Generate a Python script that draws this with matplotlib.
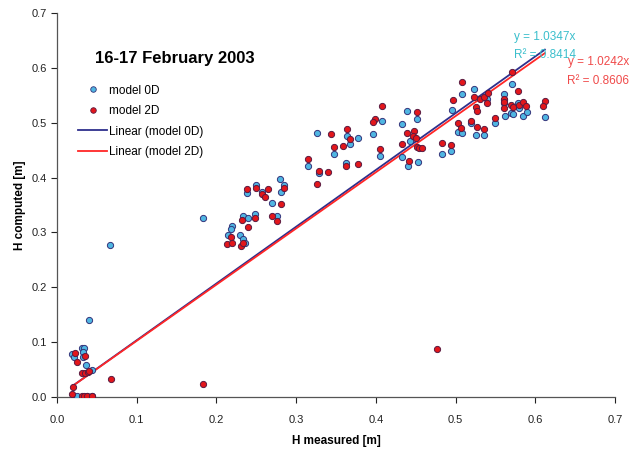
import matplotlib
matplotlib.use("Agg")
import matplotlib.pyplot as plt
import numpy as np
from matplotlib.lines import Line2D

plt.rcParams['font.family'] = ['Liberation Sans', 'DejaVu Sans']

# model 0D (measured, computed)
x_0d = [0.040, 0.031, 0.034, 0.033, 0.019, 0.021, 0.033, 0.036, 0.044, 0.025, 0.038, 0.044,
        0.066, 0.183,
        0.280, 0.285, 0.281, 0.250, 0.238, 0.257, 0.270, 0.233, 0.240, 0.248, 0.276, 0.220,
        0.218, 0.215, 0.230, 0.233, 0.236,
        0.408, 0.326, 0.364, 0.368, 0.378, 0.396, 0.348, 0.315, 0.363, 0.405, 0.329,
        0.523, 0.508, 0.540, 0.439, 0.452, 0.433, 0.496, 0.443, 0.503, 0.508, 0.519, 0.526,
        0.536, 0.433, 0.453, 0.440, 0.483, 0.494,
        0.571, 0.561, 0.561, 0.561, 0.578, 0.580, 0.570, 0.572, 0.562, 0.585, 0.590, 0.612,
        0.550]
y_0d = [0.140, 0.089, 0.089, 0.082, 0.078, 0.073, 0.073, 0.058, 0.049, 0.002, 0.002, 0.002,
        0.277, 0.326,
        0.397, 0.386, 0.374, 0.386, 0.372, 0.374, 0.354, 0.330, 0.326, 0.334, 0.330, 0.312,
        0.306, 0.295, 0.295, 0.288, 0.281,
        0.503, 0.481, 0.476, 0.461, 0.472, 0.479, 0.443, 0.421, 0.427, 0.439, 0.408,
        0.561, 0.552, 0.543, 0.521, 0.507, 0.498, 0.523, 0.467, 0.483, 0.481, 0.499, 0.478,
        0.478, 0.437, 0.428, 0.421, 0.443, 0.448,
        0.571, 0.552, 0.541, 0.536, 0.536, 0.527, 0.518, 0.516, 0.512, 0.512, 0.520, 0.510,
        0.499]

# model 2D (measured, computed)
x_2d = [0.023, 0.035, 0.025, 0.031, 0.035, 0.039, 0.040, 0.020, 0.019, 0.031, 0.034, 0.038,
        0.044, 0.068, 0.183, 0.477,
        0.238, 0.250, 0.265, 0.257, 0.261, 0.285, 0.281, 0.232, 0.248, 0.270, 0.276, 0.240,
        0.218, 0.213, 0.220, 0.231, 0.233,
        0.408, 0.399, 0.396, 0.364, 0.344, 0.368, 0.348, 0.359, 0.315, 0.363, 0.378, 0.405,
        0.329, 0.340, 0.326,
        0.508, 0.497, 0.523, 0.531, 0.536, 0.540, 0.526, 0.527, 0.452, 0.448, 0.439, 0.447,
        0.450, 0.433, 0.452, 0.454, 0.458, 0.503, 0.507, 0.519, 0.527, 0.536, 0.483, 0.494,
        0.442,
        0.571, 0.541, 0.578, 0.561, 0.561, 0.561, 0.570, 0.572, 0.580, 0.585, 0.588, 0.612,
        0.610, 0.550]
y_2d = [0.080, 0.075, 0.064, 0.044, 0.044, 0.046, 0.047, 0.018, 0.005, 0.002, 0.002, 0.002,
        0.002, 0.033, 0.024, 0.087,
        0.379, 0.381, 0.379, 0.370, 0.365, 0.381, 0.352, 0.323, 0.326, 0.330, 0.321, 0.310,
        0.292, 0.279, 0.281, 0.275, 0.281,
        0.530, 0.507, 0.501, 0.489, 0.479, 0.470, 0.456, 0.458, 0.434, 0.421, 0.425, 0.452,
        0.412, 0.410, 0.388,
        0.574, 0.541, 0.547, 0.543, 0.547, 0.536, 0.529, 0.521, 0.520, 0.485, 0.481, 0.476,
        0.472, 0.461, 0.456, 0.454, 0.454, 0.499, 0.490, 0.503, 0.492, 0.489, 0.463, 0.459,
        0.430,
        0.592, 0.554, 0.558, 0.543, 0.538, 0.527, 0.532, 0.529, 0.532, 0.538, 0.530, 0.540,
        0.530, 0.509]

slope_0d = 1.0347
slope_2d = 1.0242
r2_0d = 0.8414
r2_2d = 0.8606

ticks = [0.0, 0.1, 0.2, 0.3, 0.4, 0.5, 0.6, 0.7]
tick_labels = ["0.0", "0.1", "0.2", "0.3", "0.4", "0.5", "0.6", "0.7"]

c_0d = "#4fb6e2"
c_2d = "#e3161b"
c_line0 = "#2e2f8c"
c_line2 = "#ff2626"
edge = "#33337a"

fig = plt.figure(figsize=(6.34, 4.53), dpi=100)
ax = fig.add_axes([0.0899, 0.1236, 0.8801, 0.8477])

ax.scatter(x_0d, y_0d, s=20, c=c_0d, edgecolors=edge, linewidths=0.7, zorder=3)
ax.scatter(x_2d, y_2d, s=20, c=c_2d, edgecolors="#5a1a40", linewidths=0.7, zorder=3)

# trendlines through the origin, over the measured range
xl0 = np.array([min(x_0d), max(x_0d)])
xl2 = np.array([min(x_2d), max(x_2d)])
ax.plot(xl0, slope_0d * xl0, color=c_line0, lw=1.3, zorder=2)
ax.plot(xl2, slope_2d * xl2, color=c_line2, lw=1.3, zorder=2)

ax.set_xlim(0, 0.7)
ax.set_ylim(0, 0.7)
ax.set_xticks(ticks)
ax.set_xticklabels(tick_labels)
ax.set_yticks(ticks)
ax.set_yticklabels(tick_labels)
ax.tick_params(direction="out", length=4, width=0.8, labelsize=8, colors="#222222")
ax.tick_params(axis="x", pad=9)
for s in ["top", "right"]:
    ax.spines[s].set_visible(False)
for s in ["left", "bottom"]:
    ax.spines[s].set_color("#555555")
    ax.spines[s].set_linewidth(0.9)

ax.set_xlabel("H measured [m]", fontsize=8.5, fontweight="bold", labelpad=7)
ax.set_ylabel("H computed [m]", fontsize=8.5, fontweight="bold", labelpad=4)

ax.text(0.148, 0.617, "16-17 February 2003", fontsize=12, fontweight="bold",
        ha="center", va="center")

ax.text(0.612, 0.656, f"y = {slope_0d}x", color="#3bbfcc", fontsize=8.5, ha="center", va="center")
ax.text(0.612, 0.623, f"R\u00b2 = {r2_0d}", color="#3bbfcc", fontsize=8.5, ha="center", va="center")
ax.text(0.679, 0.611, f"y = {slope_2d}x", color="#f04a4a", fontsize=8.5, ha="center", va="center")
ax.text(0.679, 0.576, f"R\u00b2 = {r2_2d}", color="#f04a4a", fontsize=8.5, ha="center", va="center")

handles = [
    Line2D([], [], ls="", marker="o", ms=4, mfc=c_0d, mec=edge, mew=0.6),
    Line2D([], [], ls="", marker="o", ms=4, mfc=c_2d, mec="#5a1a40", mew=0.6),
    Line2D([], [], color=c_line0, lw=1.3),
    Line2D([], [], color=c_line2, lw=1.3),
]
labels = ["model 0D", "model 2D", "Linear (model 0D)", "Linear (model 2D)"]
ax.legend(handles, labels, loc="upper left", bbox_to_anchor=(0.029, 0.826), frameon=False,
          fontsize=8.5, handlelength=2.5, handletextpad=0.15, labelspacing=0.72,
          borderaxespad=0)

fig.savefig("out.png", dpi=100)
